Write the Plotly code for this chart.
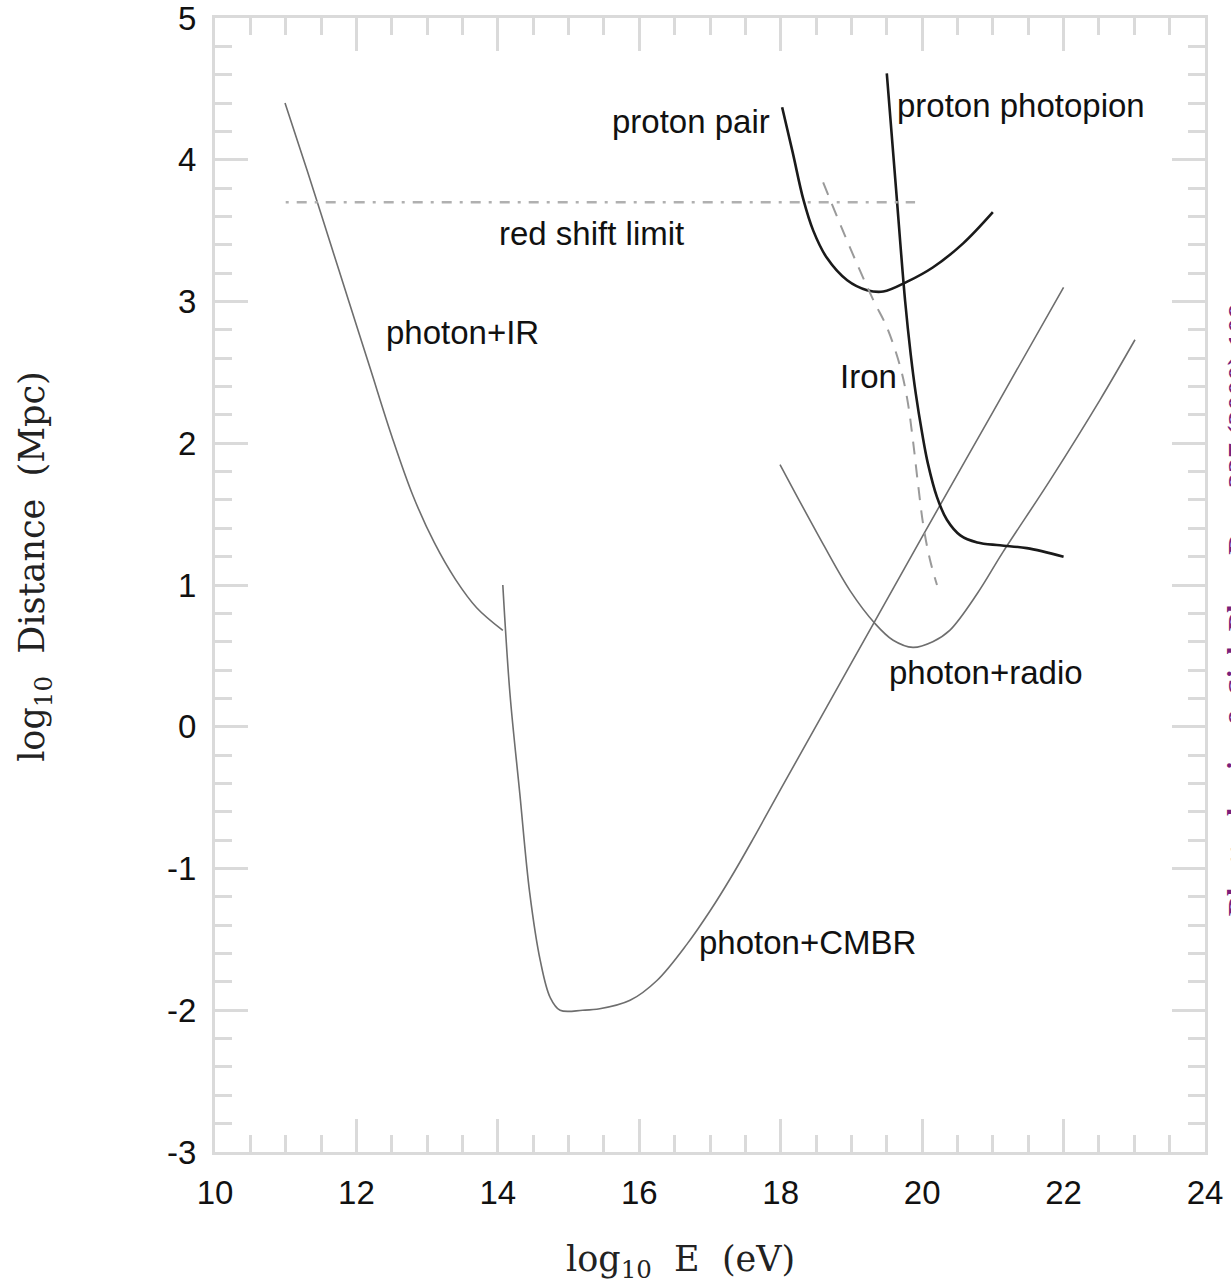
import plotly.graph_objects as go

# ---- data (log10 E [eV], log10 distance [Mpc]) ----
ir_x = [10.99, 11.30, 11.60, 11.90, 12.20, 12.50, 12.80, 13.10, 13.40, 13.70, 14.07]
ir_y = [4.40, 3.93, 3.46, 2.99, 2.52, 2.05, 1.63, 1.30, 1.04, 0.84, 0.68]

cmbr_x = [14.07, 14.17, 14.31, 14.45, 14.60, 14.74, 14.88, 15.20, 15.44, 15.87, 16.25, 16.68, 17.00, 17.30, 17.60, 18.0, 19.0, 20.0, 21.0, 22.0]
cmbr_y = [1.00, 0.24, -0.47, -1.17, -1.65, -1.91, -2.00, -2.00, -1.99, -1.93, -1.79, -1.53, -1.30, -1.06, -0.80, -0.44, 0.45, 1.34, 2.22, 3.10]

radio_x = [17.99, 18.51, 18.98, 19.33, 19.59, 19.87, 20.15, 20.39, 20.78, 21.14, 21.81, 22.52, 23.01]
radio_y = [1.85, 1.37, 0.96, 0.73, 0.61, 0.56, 0.60, 0.68, 0.94, 1.23, 1.74, 2.31, 2.73]

pair_x = [18.02, 18.17, 18.32, 18.46, 18.65, 18.94, 19.22, 19.45, 19.79, 20.15, 20.58, 21.0]
pair_y = [4.37, 4.05, 3.72, 3.50, 3.31, 3.15, 3.08, 3.07, 3.14, 3.24, 3.41, 3.63]

pion_x = [19.50, 19.63, 19.76, 19.84, 19.91, 20.00, 20.08, 20.21, 20.35, 20.54, 20.78, 21.10, 21.48, 22.0]
pion_y = [4.61, 3.80, 3.00, 2.62, 2.35, 2.07, 1.86, 1.62, 1.46, 1.35, 1.30, 1.28, 1.26, 1.20]

iron_x = [18.60, 18.98, 19.31, 19.50, 19.69, 19.79, 19.87, 19.94, 20.02, 20.11, 20.21]
iron_y = [3.84, 3.38, 3.01, 2.82, 2.54, 2.31, 2.02, 1.72, 1.41, 1.18, 1.00]

redshift_x = [11.0, 19.9]
redshift_y = [3.70, 3.70]

x_ticks = [10, 12, 14, 16, 18, 20, 22, 24]
y_ticks = [-3, -2, -1, 0, 1, 2, 3, 4, 5]

labels = ["proton pair", "proton photopion", "red shift limit", "photon+IR", "Iron", "photon+radio", "photon+CMBR"]
label_x = [17.88, 19.62, 13.99, 12.39, 18.81, 19.50, 16.82]
label_y = [4.27, 4.38, 3.48, 2.78, 2.47, 0.38, -1.52]
label_anchor = ["right", "left", "left", "left", "left", "left", "left"]

# ---- figure ----
fig = go.Figure()
gray_line = dict(color="#6e6e6e", width=1.6, shape="spline", smoothing=1.0)
fig.add_trace(go.Scatter(x=ir_x, y=ir_y, mode="lines", line=gray_line, name="photon+IR"))
fig.add_trace(go.Scatter(x=cmbr_x, y=cmbr_y, mode="lines", line=gray_line, name="photon+CMBR"))
fig.add_trace(go.Scatter(x=radio_x, y=radio_y, mode="lines", line=gray_line, name="photon+radio"))
fig.add_trace(go.Scatter(x=pair_x, y=pair_y, mode="lines",
                         line=dict(color="#1a1a1a", width=2.6, shape="spline", smoothing=1.0), name="proton pair"))
fig.add_trace(go.Scatter(x=pion_x, y=pion_y, mode="lines",
                         line=dict(color="#1a1a1a", width=2.6, shape="spline", smoothing=1.0), name="proton photopion"))
fig.add_trace(go.Scatter(x=iron_x, y=iron_y, mode="lines",
                         line=dict(color="#9a9a9a", width=2, dash="13px,10px", shape="spline", smoothing=1.0), name="Iron"))
fig.add_trace(go.Scatter(x=redshift_x, y=redshift_y, mode="lines",
                         line=dict(color="#b0b0b0", width=2.6, dash="3px,8px,10px,8px"), name="red shift limit"))

axis_common = dict(
    ticks="inside", ticklen=33, tickwidth=3, tickcolor="#dadada",
    showline=True, linecolor="#dadada", linewidth=3, mirror="ticks",
    showgrid=False, zeroline=False, automargin=False,
    tickfont=dict(family="Liberation Sans, Arial, sans-serif", size=33, color="#111111"),
    ticklabelstandoff=9, ticklabeloverflow="allow",
)
fig.update_xaxes(range=[10, 24], tickvals=x_ticks, ticktext=[str(v) for v in x_ticks],
                 minor=dict(dtick=0.5, ticks="inside", ticklen=17, tickwidth=3, tickcolor="#dadada", showgrid=False),
                 **axis_common)
fig.update_yaxes(range=[-3, 5], tickvals=y_ticks, ticktext=[str(v) for v in y_ticks],
                 minor=dict(dtick=0.2, ticks="inside", ticklen=17, tickwidth=3, tickcolor="#dadada", showgrid=False),
                 **axis_common)

annotations = []
for t, x, y, a in zip(labels, label_x, label_y, label_anchor):
    annotations.append(dict(x=x, y=y, xref="x", yref="y", text=t, showarrow=False,
                            xanchor=a, yanchor="middle",
                            font=dict(family="Liberation Sans, Arial, sans-serif", size=33, color="#111111")))

serif = dict(family="DejaVu Serif, serif", size=35, color="#222222")
annotations.append(dict(x=0.4707, y=-0.097, xref="paper", yref="paper",
                        text="log<sub>10</sub>&nbsp; E&nbsp; (eV)", showarrow=False,
                        xanchor="center", yanchor="middle", font=serif))
annotations.append(dict(x=-0.1818, y=0.516, xref="paper", yref="paper",
                        text="log<sub>10</sub>&nbsp; Distance&nbsp; (Mpc)", showarrow=False,
                        textangle=-90, xanchor="center", yanchor="middle", font=serif))
annotations.append(dict(x=1.0145, y=0.478, xref="paper", yref="paper",
                        text="<b>Bhattacharjee &amp; Sigl, Phys. Rep. 327 (2000) 109</b>", showarrow=False,
                        textangle=-90, xanchor="left", yanchor="middle",
                        font=dict(family="Liberation Serif, serif", size=30, color="#7b1f7b")))

fig.update_layout(
    width=1231, height=1286,
    margin=dict(l=215, r=26, t=18, b=134, autoexpand=False),
    paper_bgcolor="white", plot_bgcolor="white",
    showlegend=False,
    annotations=annotations,
)

fig.write_html("out.html")
